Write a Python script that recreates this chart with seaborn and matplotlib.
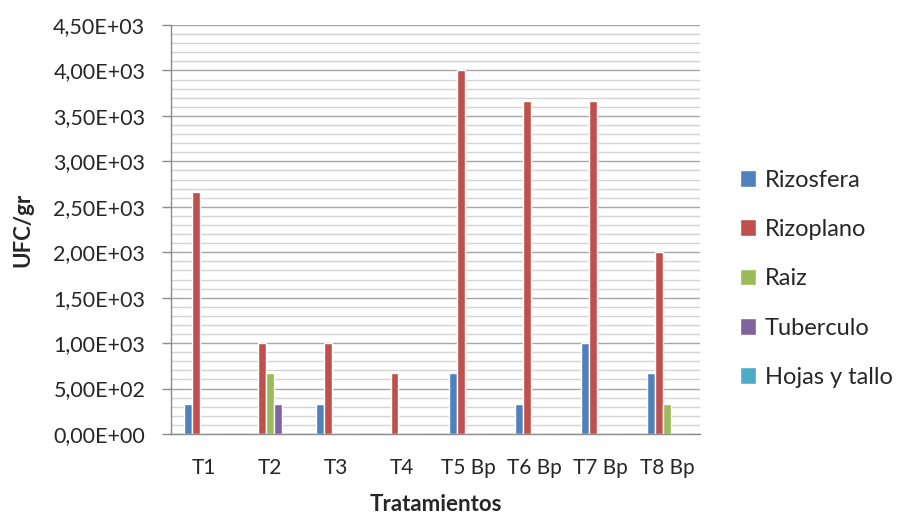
import matplotlib
matplotlib.use("Agg")
import matplotlib.pyplot as plt
import numpy as np
import pandas as pd
import seaborn as sns
from matplotlib.ticker import MultipleLocator, FuncFormatter

# Data (UFC/gr)
tratamientos = ["T1", "T2", "T3", "T4", "T5 Bp", "T6 Bp", "T7 Bp", "T8 Bp"]
series = ["Rizosfera", "Rizoplano", "Raiz", "Tuberculo", "Hojas y tallo"]
rizosfera = [333, 0, 333, 0, 667, 333, 1000, 667]
rizoplano = [2667, 1000, 1000, 667, 4000, 3667, 3667, 2000]
raiz = [0, 667, 0, 0, 0, 0, 0, 333]
tuberculo = [0, 333, 0, 0, 0, 0, 0, 0]
hojas_tallo = [0, 0, 0, 0, 0, 0, 0, 0]
colors = ["#4F81BD", "#C0504D", "#9BBB59", "#8064A2", "#4BACC6"]

rows = []
for name, vals in zip(series, [rizosfera, rizoplano, raiz, tuberculo, hojas_tallo]):
    for t, v in zip(tratamientos, vals):
        rows.append({"Tratamientos": t, "Serie": name, "UFC/gr": v})
df = pd.DataFrame(rows)

sns.set_style("white")
plt.rcParams["font.family"] = ["Lato", "DejaVu Sans"]

fig = plt.figure(figsize=(8.98, 5.17), dpi=100)
ax = fig.add_axes([0.1904, 0.1605, 0.7795 - 0.1904, 0.9516 - 0.1605])

sns.barplot(data=df, x="Tratamientos", y="UFC/gr", hue="Serie",
            palette=colors, width=0.6, saturation=1, ax=ax, legend=True)

ax.set_ylim(0, 4500)
ax.yaxis.set_major_locator(MultipleLocator(500))
ax.yaxis.set_minor_locator(MultipleLocator(100))
ax.yaxis.set_major_formatter(FuncFormatter(lambda v, p: f"{v:.2E}".replace(".", ",")))
ax.grid(which="major", axis="y", color="#a6a6a6", linewidth=1.0)
ax.grid(which="minor", axis="y", color="#d4d4d4", linewidth=1.0)
ax.set_axisbelow(True)

for s in ["top", "right"]:
    ax.spines[s].set_visible(False)
for s in ["left", "bottom"]:
    ax.spines[s].set_color("#8c8c8c")
    ax.spines[s].set_linewidth(1.0)

ax.tick_params(axis="y", which="major", length=6.5, width=1, color="#8c8c8c",
               labelsize=15.5, pad=12, left=True, labelcolor="#262626")
ax.tick_params(axis="y", which="minor", length=0)
ax.tick_params(axis="x", length=0, labelsize=15, pad=17, labelcolor="#262626")

ax.set_xlabel("Tratamientos", fontsize=16, fontweight="bold", labelpad=12)
ax.set_ylabel("UFC/gr", fontsize=16, fontweight="bold", labelpad=14)

ax.legend(loc="upper left", bbox_to_anchor=(0.824, 0.672), bbox_transform=fig.transFigure,
          frameon=False, fontsize=17, handlelength=0.7, handleheight=0.7,
          handletextpad=0.35, labelspacing=1.2, borderaxespad=0, borderpad=0)

fig.savefig("out.png", dpi=100)
